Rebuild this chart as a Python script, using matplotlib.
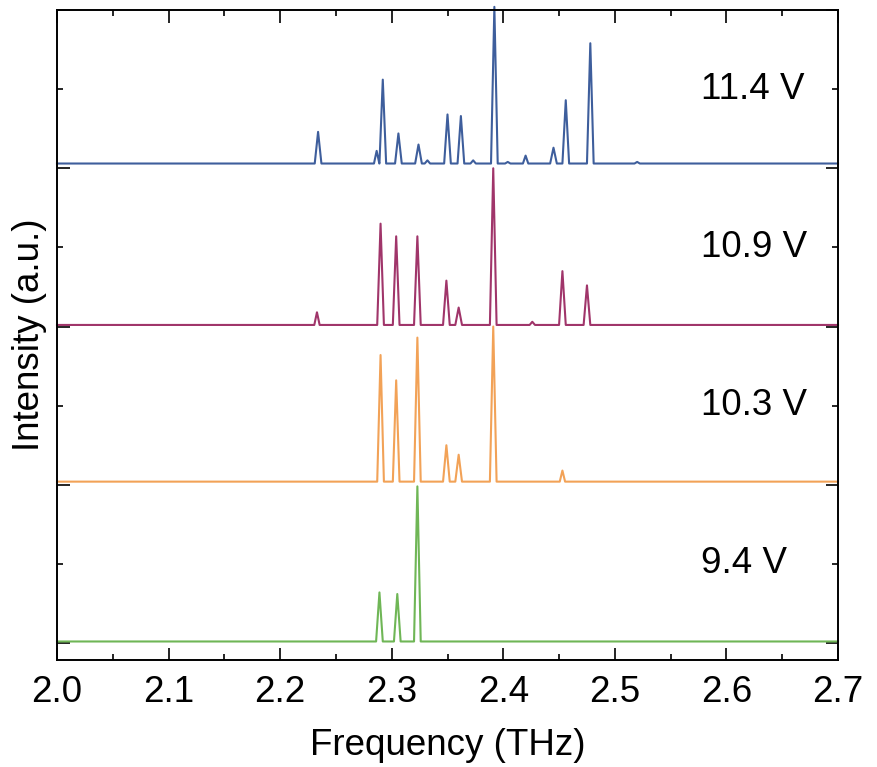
import matplotlib.pyplot as plt
from matplotlib.ticker import MultipleLocator

# peak positions (THz) and heights (a.u., normalised)
labels = ["9.4 V", "10.3 V", "10.9 V", "11.4 V"]
colors = ["#6fb656", "#f2a257", "#a0356a", "#3e5e9c"]
offsets = [0.01, 1.02, 2.01, 3.03]

green_f = [2.289, 2.305, 2.323]
green_h = [0.31, 0.30, 0.98]

orange_f = [2.290, 2.304, 2.323, 2.349, 2.360, 2.391, 2.453]
orange_h = [0.80, 0.64, 0.91, 0.23, 0.17, 0.98, 0.07]

purple_f = [2.233, 2.290, 2.304, 2.323, 2.349, 2.360, 2.391, 2.426, 2.453, 2.475]
purple_h = [0.08, 0.64, 0.56, 0.56, 0.28, 0.11, 0.99, 0.02, 0.34, 0.25]

blue_f = [2.234, 2.2865, 2.292, 2.306, 2.324, 2.332, 2.350, 2.362, 2.373,
          2.392, 2.404, 2.420, 2.445, 2.456, 2.478, 2.520]
blue_h = [0.20, 0.08, 0.53, 0.19, 0.12, 0.02, 0.31, 0.30, 0.02,
          0.99, 0.01, 0.05, 0.10, 0.40, 0.76, 0.01]

peak_sets = [(green_f, green_h), (orange_f, orange_h),
             (purple_f, purple_h), (blue_f, blue_h)]
half_base = 0.003  # half width of a spike at its foot (THz)


def spikes(centers, heights):
    # baseline with a narrow spike at every listed peak
    xs, ys = [2.0], [0.0]
    for c, h in zip(centers, heights):
        w = half_base * (0.8 if h < 0.1 else 1.0)
        xs += [c - w, c, c + w]
        ys += [0.0, h, 0.0]
    xs.append(2.7)
    ys.append(0.0)
    return xs, ys


plt.rcParams['font.family'] = ['Liberation Sans', 'DejaVu Sans']

fig = plt.figure(figsize=(8.78, 7.67), dpi=100)
ax = fig.add_axes([57 / 878, 1 - 660 / 767, (838 - 57) / 878, (660 - 10) / 767])

for (fr, hh), off, col, lab in zip(peak_sets, offsets, colors, labels):
    xs, ys = spikes(fr, hh)
    ax.plot(xs, [y + off for y in ys], color=col, lw=1.5, clip_on=False)
    ax.text(2.577, round(off) + 0.5, lab, fontsize=26.5, va='center', ha='left')

ax.set_xlim(2.0, 2.7)
ax.set_ylim(-0.107, 4.0)
ax.xaxis.set_major_locator(MultipleLocator(0.1))
ax.xaxis.set_minor_locator(MultipleLocator(0.05))
ax.yaxis.set_major_locator(MultipleLocator(1))
ax.yaxis.set_minor_locator(MultipleLocator(0.5))
ax.xaxis.set_major_formatter(lambda v, p: f"{v:.1f}")
ax.tick_params(which='both', direction='in', top=True, right=True,
               width=1.2, labelleft=False, labelsize=26.5, pad=11)
ax.tick_params(which='major', length=9)
ax.tick_params(which='minor', length=4.5)
for s in ax.spines.values():
    s.set_linewidth(1.4)

ax.set_xlabel("Frequency (THz)", fontsize=26.5, labelpad=13)
ax.set_ylabel("Intensity (a.u.)", fontsize=26.5, labelpad=7)

fig.savefig("out.png", dpi=100)
